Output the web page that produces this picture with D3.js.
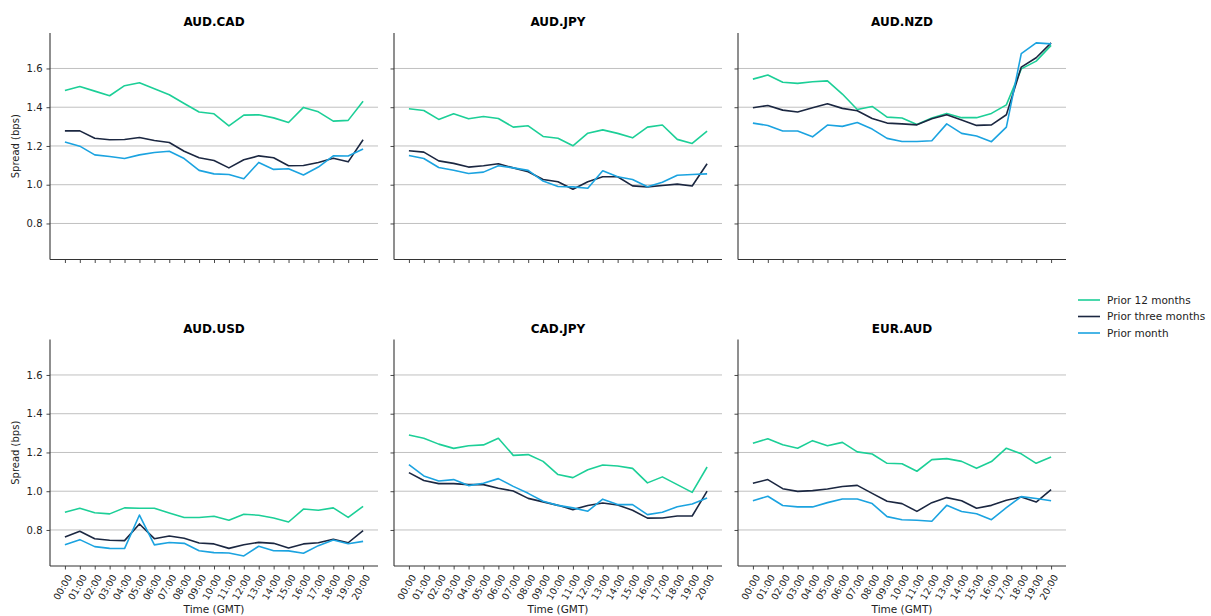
<!DOCTYPE html>
<html>
<head>
<meta charset="utf-8">
<script src="https://cdn.jsdelivr.net/npm/d3@7"></script>
<style>
body { margin: 0; background: #fff; }
text { font-family: "DejaVu Sans", sans-serif; fill: #222; }
</style>
</head>
<body>
<div id="chart"></div>
<script>
var width = 1211, height = 616;

var hours = ["00:00", "01:00", "02:00", "03:00", "04:00", "05:00", "06:00", "07:00", "08:00", "09:00",
             "10:00", "11:00", "12:00", "13:00", "14:00", "15:00", "16:00", "17:00", "18:00", "19:00", "20:00"];
var seriesNames = ["Prior 12 months", "Prior three months", "Prior month"];
var seriesColors = ["#1ccf97", "#1b2741", "#1ba3e0"];
var pairs = ["AUD.CAD", "AUD.JPY", "AUD.NZD", "AUD.USD", "CAD.JPY", "EUR.AUD"];
var yTicks = [0.8, 1.0, 1.2, 1.4, 1.6];

// spreads (bps) per pair: prior 12 months / prior three months / prior month
var audcad12 = [1.486, 1.507, 1.483, 1.459, 1.511, 1.526, 1.495, 1.464, 1.419, 1.375, 1.366, 1.304, 1.359, 1.361, 1.345, 1.321, 1.399, 1.376, 1.328, 1.332, 1.431];
var audcad3  = [1.278, 1.278, 1.240, 1.232, 1.233, 1.244, 1.228, 1.218, 1.173, 1.139, 1.125, 1.087, 1.129, 1.149, 1.139, 1.098, 1.099, 1.115, 1.137, 1.118, 1.232];
var audcad1  = [1.220, 1.199, 1.154, 1.146, 1.135, 1.154, 1.166, 1.173, 1.135, 1.074, 1.056, 1.053, 1.031, 1.115, 1.079, 1.082, 1.050, 1.091, 1.149, 1.148, 1.184];

var audjpy12 = [1.392, 1.383, 1.337, 1.366, 1.340, 1.352, 1.342, 1.297, 1.304, 1.249, 1.240, 1.201, 1.266, 1.283, 1.265, 1.242, 1.297, 1.308, 1.234, 1.213, 1.277];
var audjpy3  = [1.175, 1.168, 1.123, 1.110, 1.091, 1.098, 1.108, 1.087, 1.067, 1.027, 1.015, 0.977, 1.015, 1.041, 1.041, 0.994, 0.989, 0.996, 1.003, 0.993, 1.108];
var audjpy1  = [1.151, 1.135, 1.089, 1.075, 1.058, 1.065, 1.098, 1.087, 1.074, 1.019, 0.991, 0.989, 0.982, 1.072, 1.041, 1.027, 0.989, 1.013, 1.049, 1.053, 1.056];

var audnzd12 = [1.545, 1.566, 1.529, 1.523, 1.531, 1.536, 1.468, 1.388, 1.404, 1.349, 1.344, 1.311, 1.344, 1.368, 1.346, 1.346, 1.368, 1.412, 1.598, 1.638, 1.719];
var audnzd3  = [1.397, 1.409, 1.385, 1.375, 1.397, 1.418, 1.394, 1.382, 1.342, 1.318, 1.314, 1.309, 1.340, 1.361, 1.334, 1.306, 1.309, 1.361, 1.607, 1.655, 1.732];
var audnzd1  = [1.318, 1.306, 1.277, 1.277, 1.247, 1.308, 1.301, 1.321, 1.287, 1.239, 1.223, 1.223, 1.227, 1.314, 1.265, 1.251, 1.222, 1.297, 1.677, 1.732, 1.727];

var audusd12 = [0.891, 0.912, 0.889, 0.883, 0.914, 0.912, 0.912, 0.888, 0.864, 0.864, 0.871, 0.850, 0.881, 0.876, 0.862, 0.841, 0.908, 0.902, 0.914, 0.865, 0.922];
var audusd3  = [0.764, 0.793, 0.755, 0.747, 0.745, 0.831, 0.755, 0.769, 0.757, 0.733, 0.728, 0.705, 0.724, 0.736, 0.731, 0.707, 0.728, 0.734, 0.752, 0.734, 0.797];
var audusd1  = [0.724, 0.750, 0.714, 0.705, 0.704, 0.877, 0.723, 0.735, 0.731, 0.693, 0.683, 0.681, 0.666, 0.716, 0.693, 0.692, 0.680, 0.719, 0.748, 0.729, 0.741];

var cadjpy12 = [1.290, 1.273, 1.243, 1.221, 1.235, 1.239, 1.273, 1.185, 1.189, 1.154, 1.086, 1.070, 1.111, 1.135, 1.130, 1.118, 1.043, 1.074, 1.034, 0.994, 1.125];
var cadjpy3  = [1.096, 1.055, 1.039, 1.039, 1.034, 1.034, 1.015, 1.001, 0.963, 0.945, 0.927, 0.905, 0.926, 0.939, 0.929, 0.902, 0.861, 0.862, 0.872, 0.872, 1.000];
var cadjpy1  = [1.137, 1.079, 1.053, 1.060, 1.029, 1.041, 1.065, 1.025, 0.989, 0.948, 0.927, 0.914, 0.897, 0.959, 0.931, 0.931, 0.879, 0.891, 0.920, 0.934, 0.965];

var euraud12 = [1.247, 1.271, 1.240, 1.222, 1.261, 1.235, 1.252, 1.203, 1.192, 1.144, 1.142, 1.103, 1.163, 1.168, 1.154, 1.118, 1.153, 1.222, 1.193, 1.144, 1.177];
var euraud3  = [1.041, 1.060, 1.013, 0.999, 1.003, 1.011, 1.024, 1.030, 0.989, 0.948, 0.936, 0.896, 0.941, 0.967, 0.951, 0.912, 0.927, 0.953, 0.970, 0.944, 1.008];
var euraud1  = [0.951, 0.974, 0.926, 0.919, 0.919, 0.941, 0.960, 0.960, 0.936, 0.869, 0.853, 0.850, 0.845, 0.927, 0.895, 0.884, 0.853, 0.915, 0.972, 0.962, 0.951];

var pairSeries = [
    [audcad12, audcad3, audcad1],
    [audjpy12, audjpy3, audjpy1],
    [audnzd12, audnzd3, audnzd1],
    [audusd12, audusd3, audusd1],
    [cadjpy12, cadjpy3, cadjpy1],
    [euraud12, euraud3, euraud1]
];

// panel layout
var colX = [50, 394, 738], panelW = 328;
var rowY = [33, 339.5], panelH = 226.5;

var svg = d3.select("#chart").append("svg")
    .attr("width", width)
    .attr("height", height);

var x = d3.scaleLinear().domain([-1, hours.length]).range([0, panelW]);
var y = d3.scaleLinear().domain([0.614, 1.783]).range([panelH, 0]);

var line = d3.line()
    .x(function(d, i) { return x(i); })
    .y(function(d) { return y(d); });

pairs.forEach(function(name, p) {
    var col = p % 3, row = Math.floor(p / 3);
    var g = svg.append("g")
        .attr("transform", "translate(" + colX[col] + "," + rowY[row] + ")");

    // grid
    g.selectAll(".grid")
        .data(yTicks)
        .enter().append("line")
        .attr("x1", 0).attr("x2", panelW)
        .attr("y1", function(d) { return y(d); })
        .attr("y2", function(d) { return y(d); })
        .style("stroke", "#c0c0c0")
        .style("stroke-width", 1);

    // y axis
    var yAxis = g.append("g")
        .call(d3.axisLeft(y).tickValues(yTicks).tickSize(3.5).tickPadding(4)
            .tickFormat(col === 0 ? d3.format(".1f") : ""));
    // x axis
    var xAxis = g.append("g")
        .attr("transform", "translate(0," + panelH + ")")
        .call(d3.axisBottom(x).tickValues(d3.range(hours.length)).tickSize(3.5)
            .tickFormat(function(i) { return row === 1 ? hours[i] : ""; }));

    [yAxis, xAxis].forEach(function(a) {
        a.select(".domain").style("stroke", "#333").style("stroke-width", 1.1)
            .attr("d", a === yAxis ? "M0,0V" + panelH : "M0,0H" + panelW);
        a.selectAll(".tick line").style("stroke", "#333").style("stroke-width", 0.9);
        a.selectAll("text").style("font-size", "10px").style("fill", "#222")
            .style("font-family", '"DejaVu Sans", sans-serif');
    });

    if (row === 1) {
        xAxis.selectAll(".tick text")
            .attr("y", 0).attr("dy", 0)
            .attr("text-anchor", "end")
            .style("font-size", "9.5px")
            .attr("transform", "translate(7,11) rotate(-60)");
        g.append("text")
            .attr("x", panelW / 2)
            .attr("y", panelH + 47)
            .attr("text-anchor", "middle")
            .style("font-size", "10.5px")
            .text("Time (GMT)");
    }
    if (col === 0) {
        g.append("text")
            .attr("transform", "translate(-31," + (panelH / 2) + ") rotate(-90)")
            .attr("text-anchor", "middle")
            .style("font-size", "10px")
            .text("Spread (bps)");
    }

    g.append("text")
        .attr("x", panelW / 2)
        .attr("y", -7)
        .attr("text-anchor", "middle")
        .style("font-size", "12px")
        .style("font-weight", "bold")
        .style("fill", "#000")
        .text(name);

    g.selectAll(".series")
        .data(pairSeries[p])
        .enter().append("path")
        .attr("d", line)
        .style("fill", "none")
        .style("stroke", function(d, i) { return seriesColors[i]; })
        .style("stroke-width", 1.6)
        .style("stroke-linejoin", "round");
});

// legend
var legend = svg.append("g")
    .attr("transform", "translate(1078,300)")
    .selectAll("g")
    .data(seriesNames)
    .enter().append("g")
    .attr("transform", function(d, i) { return "translate(0," + i * 16.5 + ")"; });

legend.append("line")
    .attr("x1", 0).attr("x2", 22)
    .style("stroke", function(d, i) { return seriesColors[i]; })
    .style("stroke-width", 1.6);

legend.append("text")
    .attr("x", 29)
    .attr("dy", "0.35em")
    .style("font-size", "10.5px")
    .text(function(d) { return d; });
</script>
</body>
</html>
